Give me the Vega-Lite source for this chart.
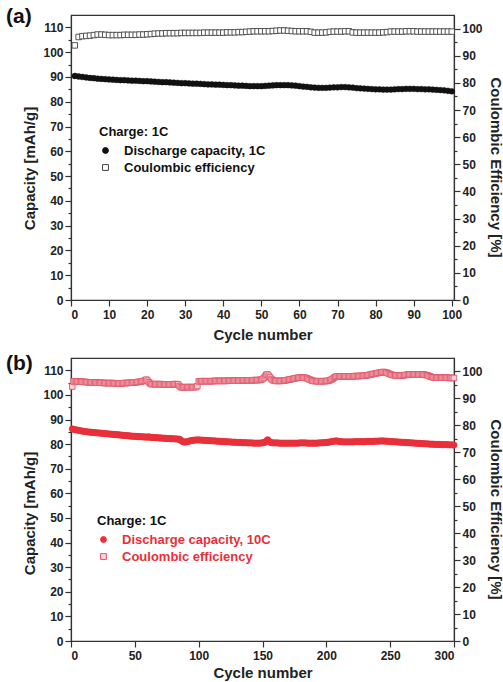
{
"$schema": "https://vega.github.io/schema/vega-lite/v6.json",
"padding": {"left": 5, "top": 5, "right": 1, "bottom": 1},
"config": {
 "font": "Liberation Sans",
 "view": {"stroke": "#333", "strokeWidth": 1.2},
 "point": {"opacity": 1},
 "axis": {"labelFont": "Liberation Sans", "labelFontSize": 12, "labelFontWeight": "bold", "labelColor": "#222", "titleFont": "Liberation Sans", "titleFontSize": 15, "titleFontWeight": "bold", "titleColor": "#222", "domainColor": "#333", "tickColor": "#333", "grid": false, "labelPadding": 2, "domainWidth": 1.2, "tickWidth": 1.2, "tickSize": 6, "titlePadding": 5},
 "legend": {"titleFont": "Liberation Sans", "labelFont": "Liberation Sans", "titleFontSize": 13, "labelFontSize": 13, "titleFontWeight": "bold", "labelFontWeight": "bold", "titleColor": "#111", "labelColor": "#111", "symbolSize": 34, "symbolStrokeWidth": 1, "symbolOpacity": 1, "rowPadding": 3, "titlePadding": 5, "labelOffset": 12, "labelLimit": 300},
 "title": {"font": "Liberation Sans", "fontSize": 21, "fontWeight": "bold", "color": "#111"}
},
"datasets": {
"a": [
{"n":1,"cap":90.4,"ce":93.8},{"n":2,"cap":90.2,"ce":96.9},{"n":3,"cap":90.0,"ce":97.2},{"n":4,"cap":89.8,"ce":97.3},{"n":5,"cap":89.6,"ce":97.4},{"n":6,"cap":89.5,"ce":97.6},{"n":7,"cap":89.3,"ce":97.8},{"n":8,"cap":89.2,"ce":97.8},{"n":9,"cap":89.1,"ce":97.7},{"n":10,"cap":89.0,"ce":97.6},
{"n":11,"cap":88.9,"ce":97.6},{"n":12,"cap":88.8,"ce":97.6},{"n":13,"cap":88.7,"ce":97.6},{"n":14,"cap":88.7,"ce":97.7},{"n":15,"cap":88.6,"ce":97.7},{"n":16,"cap":88.5,"ce":97.7},{"n":17,"cap":88.5,"ce":97.7},{"n":18,"cap":88.4,"ce":97.8},{"n":19,"cap":88.3,"ce":97.8},{"n":20,"cap":88.3,"ce":97.9},
{"n":21,"cap":88.2,"ce":98.0},{"n":22,"cap":88.1,"ce":98.1},{"n":23,"cap":88.0,"ce":98.2},{"n":24,"cap":87.9,"ce":98.2},{"n":25,"cap":87.9,"ce":98.3},{"n":26,"cap":87.8,"ce":98.3},{"n":27,"cap":87.7,"ce":98.3},{"n":28,"cap":87.6,"ce":98.3},{"n":29,"cap":87.5,"ce":98.4},{"n":30,"cap":87.5,"ce":98.4},
{"n":31,"cap":87.4,"ce":98.4},{"n":32,"cap":87.3,"ce":98.4},{"n":33,"cap":87.3,"ce":98.4},{"n":34,"cap":87.2,"ce":98.4},{"n":35,"cap":87.1,"ce":98.5},{"n":36,"cap":87.0,"ce":98.5},{"n":37,"cap":87.0,"ce":98.5},{"n":38,"cap":86.9,"ce":98.5},{"n":39,"cap":86.9,"ce":98.5},{"n":40,"cap":86.8,"ce":98.5},
{"n":41,"cap":86.7,"ce":98.6},{"n":42,"cap":86.7,"ce":98.6},{"n":43,"cap":86.6,"ce":98.6},{"n":44,"cap":86.5,"ce":98.7},{"n":45,"cap":86.5,"ce":98.7},{"n":46,"cap":86.4,"ce":98.8},{"n":47,"cap":86.3,"ce":98.9},{"n":48,"cap":86.3,"ce":99.0},{"n":49,"cap":86.3,"ce":99.0},{"n":50,"cap":86.3,"ce":99.0},
{"n":51,"cap":86.4,"ce":99.0},{"n":52,"cap":86.5,"ce":99.0},{"n":53,"cap":86.6,"ce":99.1},{"n":54,"cap":86.7,"ce":99.2},{"n":55,"cap":86.7,"ce":99.3},{"n":56,"cap":86.7,"ce":99.3},{"n":57,"cap":86.7,"ce":99.2},{"n":58,"cap":86.6,"ce":99.1},{"n":59,"cap":86.5,"ce":99.0},{"n":60,"cap":86.3,"ce":99.0},
{"n":61,"cap":86.1,"ce":99.0},{"n":62,"cap":86.0,"ce":99.0},{"n":63,"cap":85.8,"ce":98.8},{"n":64,"cap":85.7,"ce":98.5},{"n":65,"cap":85.6,"ce":98.5},{"n":66,"cap":85.6,"ce":98.5},{"n":67,"cap":85.6,"ce":98.6},{"n":68,"cap":85.7,"ce":98.8},{"n":69,"cap":85.8,"ce":98.9},{"n":70,"cap":85.8,"ce":98.9},
{"n":71,"cap":85.9,"ce":98.9},{"n":72,"cap":85.9,"ce":99.0},{"n":73,"cap":85.8,"ce":99.0},{"n":74,"cap":85.7,"ce":98.6},{"n":75,"cap":85.5,"ce":98.5},{"n":76,"cap":85.4,"ce":98.5},{"n":77,"cap":85.3,"ce":98.5},{"n":78,"cap":85.2,"ce":98.5},{"n":79,"cap":85.1,"ce":98.5},{"n":80,"cap":85.0,"ce":98.5},
{"n":81,"cap":85.0,"ce":98.5},{"n":82,"cap":84.9,"ce":98.6},{"n":83,"cap":84.9,"ce":98.7},{"n":84,"cap":84.9,"ce":98.9},{"n":85,"cap":85.0,"ce":98.9},{"n":86,"cap":85.1,"ce":98.9},{"n":87,"cap":85.1,"ce":98.9},{"n":88,"cap":85.2,"ce":99.0},{"n":89,"cap":85.2,"ce":99.0},{"n":90,"cap":85.2,"ce":99.0},
{"n":91,"cap":85.1,"ce":98.9},{"n":92,"cap":85.1,"ce":98.9},{"n":93,"cap":85.0,"ce":98.9},{"n":94,"cap":85.0,"ce":98.9},{"n":95,"cap":84.9,"ce":98.9},{"n":96,"cap":84.8,"ce":98.9},{"n":97,"cap":84.7,"ce":98.9},{"n":98,"cap":84.6,"ce":98.9},{"n":99,"cap":84.4,"ce":98.9},{"n":100,"cap":84.2,"ce":98.9}
],
"b": [
{"n":1,"cap":86.2,"ce":94.4},{"n":2,"cap":86.0,"ce":96.3},{"n":3,"cap":85.9,"ce":96.4},{"n":4,"cap":85.8,"ce":96.4},{"n":5,"cap":85.7,"ce":96.3},{"n":6,"cap":85.6,"ce":96.3},{"n":7,"cap":85.5,"ce":96.2},{"n":8,"cap":85.4,"ce":96.2},{"n":9,"cap":85.3,"ce":96.2},{"n":10,"cap":85.2,"ce":96.1},
{"n":11,"cap":85.1,"ce":96.1},{"n":12,"cap":85.0,"ce":96.1},{"n":13,"cap":85.0,"ce":96.0},{"n":14,"cap":84.9,"ce":96.0},{"n":15,"cap":84.9,"ce":96.0},{"n":16,"cap":84.8,"ce":96.0},{"n":17,"cap":84.8,"ce":95.9},{"n":18,"cap":84.7,"ce":95.9},{"n":19,"cap":84.7,"ce":95.9},{"n":20,"cap":84.6,"ce":95.9},
{"n":21,"cap":84.6,"ce":95.8},{"n":22,"cap":84.5,"ce":95.8},{"n":23,"cap":84.5,"ce":95.8},{"n":24,"cap":84.4,"ce":95.8},{"n":25,"cap":84.4,"ce":95.8},{"n":26,"cap":84.3,"ce":95.7},{"n":27,"cap":84.3,"ce":95.7},{"n":28,"cap":84.2,"ce":95.7},{"n":29,"cap":84.2,"ce":95.7},{"n":30,"cap":84.1,"ce":95.7},
{"n":31,"cap":84.1,"ce":95.7},{"n":32,"cap":84.0,"ce":95.7},{"n":33,"cap":84.0,"ce":95.7},{"n":34,"cap":83.9,"ce":95.6},{"n":35,"cap":83.9,"ce":95.6},{"n":36,"cap":83.8,"ce":95.6},{"n":37,"cap":83.8,"ce":95.6},{"n":38,"cap":83.7,"ce":95.6},{"n":39,"cap":83.7,"ce":95.6},{"n":40,"cap":83.6,"ce":95.6},
{"n":41,"cap":83.6,"ce":95.7},{"n":42,"cap":83.5,"ce":95.7},{"n":43,"cap":83.5,"ce":95.7},{"n":44,"cap":83.4,"ce":95.7},{"n":45,"cap":83.4,"ce":95.8},{"n":46,"cap":83.3,"ce":95.8},{"n":47,"cap":83.3,"ce":95.8},{"n":48,"cap":83.2,"ce":95.9},{"n":49,"cap":83.2,"ce":95.9},{"n":50,"cap":83.2,"ce":96.0},
{"n":51,"cap":83.1,"ce":96.0},{"n":52,"cap":83.1,"ce":96.1},{"n":53,"cap":83.1,"ce":96.1},{"n":54,"cap":83.0,"ce":96.2},{"n":55,"cap":83.0,"ce":96.3},{"n":56,"cap":83.0,"ce":96.4},{"n":57,"cap":82.9,"ce":96.5},{"n":58,"cap":82.9,"ce":96.7},{"n":59,"cap":82.9,"ce":97.0},{"n":60,"cap":82.8,"ce":96.6},
{"n":61,"cap":83.0,"ce":96.0},{"n":62,"cap":82.8,"ce":95.5},{"n":63,"cap":82.7,"ce":95.3},{"n":64,"cap":82.7,"ce":95.3},{"n":65,"cap":82.7,"ce":95.3},{"n":66,"cap":82.6,"ce":95.3},{"n":67,"cap":82.6,"ce":95.3},{"n":68,"cap":82.6,"ce":95.3},{"n":69,"cap":82.5,"ce":95.3},{"n":70,"cap":82.5,"ce":95.3},
{"n":71,"cap":82.5,"ce":95.3},{"n":72,"cap":82.4,"ce":95.2},{"n":73,"cap":82.4,"ce":95.2},{"n":74,"cap":82.4,"ce":95.2},{"n":75,"cap":82.3,"ce":95.2},{"n":76,"cap":82.3,"ce":95.2},{"n":77,"cap":82.3,"ce":95.2},{"n":78,"cap":82.2,"ce":95.2},{"n":79,"cap":82.2,"ce":95.2},{"n":80,"cap":82.2,"ce":95.3},
{"n":81,"cap":82.1,"ce":95.3},{"n":82,"cap":82.1,"ce":95.3},{"n":83,"cap":82.1,"ce":95.3},{"n":84,"cap":82.0,"ce":95.2},{"n":85,"cap":82.0,"ce":94.6},{"n":86,"cap":81.6,"ce":94.2},{"n":87,"cap":81.2,"ce":94.1},{"n":88,"cap":80.9,"ce":94.1},{"n":89,"cap":80.8,"ce":94.2},{"n":90,"cap":80.9,"ce":94.2},
{"n":91,"cap":81.0,"ce":94.2},{"n":92,"cap":81.1,"ce":94.2},{"n":93,"cap":81.3,"ce":94.2},{"n":94,"cap":81.4,"ce":94.2},{"n":95,"cap":81.5,"ce":94.2},{"n":96,"cap":81.6,"ce":94.2},{"n":97,"cap":81.6,"ce":94.2},{"n":98,"cap":81.7,"ce":94.2},{"n":99,"cap":81.7,"ce":94.6},{"n":100,"cap":81.7,"ce":96.3},
{"n":101,"cap":81.7,"ce":96.4},{"n":102,"cap":81.6,"ce":96.4},{"n":103,"cap":81.6,"ce":96.4},{"n":104,"cap":81.6,"ce":96.4},{"n":105,"cap":81.5,"ce":96.4},{"n":106,"cap":81.5,"ce":96.4},{"n":107,"cap":81.5,"ce":96.4},{"n":108,"cap":81.4,"ce":96.4},{"n":109,"cap":81.4,"ce":96.4},{"n":110,"cap":81.4,"ce":96.4},
{"n":111,"cap":81.3,"ce":96.4},{"n":112,"cap":81.3,"ce":96.5},{"n":113,"cap":81.3,"ce":96.5},{"n":114,"cap":81.2,"ce":96.5},{"n":115,"cap":81.2,"ce":96.5},{"n":116,"cap":81.2,"ce":96.5},{"n":117,"cap":81.1,"ce":96.5},{"n":118,"cap":81.1,"ce":96.5},{"n":119,"cap":81.1,"ce":96.5},{"n":120,"cap":81.0,"ce":96.5},
{"n":121,"cap":81.0,"ce":96.5},{"n":122,"cap":81.0,"ce":96.5},{"n":123,"cap":80.9,"ce":96.6},{"n":124,"cap":80.9,"ce":96.6},{"n":125,"cap":80.9,"ce":96.6},{"n":126,"cap":80.8,"ce":96.6},{"n":127,"cap":80.8,"ce":96.6},{"n":128,"cap":80.8,"ce":96.6},{"n":129,"cap":80.8,"ce":96.6},{"n":130,"cap":80.7,"ce":96.6},
{"n":131,"cap":80.7,"ce":96.6},{"n":132,"cap":80.7,"ce":96.6},{"n":133,"cap":80.7,"ce":96.6},{"n":134,"cap":80.6,"ce":96.7},{"n":135,"cap":80.6,"ce":96.7},{"n":136,"cap":80.6,"ce":96.7},{"n":137,"cap":80.6,"ce":96.7},{"n":138,"cap":80.5,"ce":96.7},{"n":139,"cap":80.5,"ce":96.7},{"n":140,"cap":80.5,"ce":96.7},
{"n":141,"cap":80.5,"ce":96.7},{"n":142,"cap":80.5,"ce":96.7},{"n":143,"cap":80.4,"ce":96.8},{"n":144,"cap":80.4,"ce":96.8},{"n":145,"cap":80.4,"ce":96.8},{"n":146,"cap":80.4,"ce":96.8},{"n":147,"cap":80.4,"ce":96.8},{"n":148,"cap":80.4,"ce":96.9},{"n":149,"cap":80.5,"ce":97.0},{"n":150,"cap":80.5,"ce":97.2},
{"n":151,"cap":80.6,"ce":97.6},{"n":152,"cap":80.8,"ce":98.2},{"n":153,"cap":81.2,"ce":98.8},{"n":154,"cap":81.8,"ce":98.9},{"n":155,"cap":81.2,"ce":98.4},{"n":156,"cap":80.8,"ce":97.8},{"n":157,"cap":80.6,"ce":97.2},{"n":158,"cap":80.5,"ce":96.8},{"n":159,"cap":80.5,"ce":96.6},{"n":160,"cap":80.5,"ce":96.5},
{"n":161,"cap":80.5,"ce":96.5},{"n":162,"cap":80.5,"ce":96.5},{"n":163,"cap":80.4,"ce":96.5},{"n":164,"cap":80.4,"ce":96.5},{"n":165,"cap":80.4,"ce":96.5},{"n":166,"cap":80.4,"ce":96.6},{"n":167,"cap":80.4,"ce":96.6},{"n":168,"cap":80.4,"ce":96.7},{"n":169,"cap":80.4,"ce":96.8},{"n":170,"cap":80.4,"ce":96.9},
{"n":171,"cap":80.4,"ce":97.0},{"n":172,"cap":80.4,"ce":97.1},{"n":173,"cap":80.4,"ce":97.2},{"n":174,"cap":80.4,"ce":97.3},{"n":175,"cap":80.4,"ce":97.4},{"n":176,"cap":80.4,"ce":97.5},{"n":177,"cap":80.4,"ce":97.6},{"n":178,"cap":80.4,"ce":97.7},{"n":179,"cap":80.5,"ce":97.7},{"n":180,"cap":80.5,"ce":97.7},
{"n":181,"cap":80.5,"ce":97.7},{"n":182,"cap":80.5,"ce":97.7},{"n":183,"cap":80.5,"ce":97.7},{"n":184,"cap":80.5,"ce":97.6},{"n":185,"cap":80.4,"ce":97.4},{"n":186,"cap":80.4,"ce":97.2},{"n":187,"cap":80.4,"ce":97.0},{"n":188,"cap":80.4,"ce":96.8},{"n":189,"cap":80.4,"ce":96.6},{"n":190,"cap":80.4,"ce":96.5},
{"n":191,"cap":80.4,"ce":96.4},{"n":192,"cap":80.4,"ce":96.4},{"n":193,"cap":80.4,"ce":96.4},{"n":194,"cap":80.5,"ce":96.4},{"n":195,"cap":80.5,"ce":96.4},{"n":196,"cap":80.5,"ce":96.4},{"n":197,"cap":80.6,"ce":96.4},{"n":198,"cap":80.6,"ce":96.4},{"n":199,"cap":80.6,"ce":96.4},{"n":200,"cap":80.7,"ce":96.5},
{"n":201,"cap":80.7,"ce":96.5},{"n":202,"cap":80.8,"ce":96.6},{"n":203,"cap":80.9,"ce":96.8},{"n":204,"cap":81.0,"ce":97.0},{"n":205,"cap":81.1,"ce":97.3},{"n":206,"cap":81.2,"ce":97.7},{"n":207,"cap":81.3,"ce":98.0},{"n":208,"cap":81.3,"ce":98.1},{"n":209,"cap":81.2,"ce":98.2},{"n":210,"cap":81.1,"ce":98.2},
{"n":211,"cap":81.0,"ce":98.2},{"n":212,"cap":81.0,"ce":98.2},{"n":213,"cap":80.9,"ce":98.2},{"n":214,"cap":80.9,"ce":98.2},{"n":215,"cap":80.9,"ce":98.2},{"n":216,"cap":80.9,"ce":98.2},{"n":217,"cap":80.9,"ce":98.2},{"n":218,"cap":80.9,"ce":98.2},{"n":219,"cap":80.9,"ce":98.2},{"n":220,"cap":80.9,"ce":98.2},
{"n":221,"cap":80.9,"ce":98.2},{"n":222,"cap":81.0,"ce":98.3},{"n":223,"cap":81.0,"ce":98.3},{"n":224,"cap":81.0,"ce":98.3},{"n":225,"cap":81.0,"ce":98.3},{"n":226,"cap":81.0,"ce":98.3},{"n":227,"cap":81.0,"ce":98.4},{"n":228,"cap":81.0,"ce":98.4},{"n":229,"cap":81.0,"ce":98.4},{"n":230,"cap":81.0,"ce":98.5},
{"n":231,"cap":81.0,"ce":98.5},{"n":232,"cap":81.1,"ce":98.6},{"n":233,"cap":81.1,"ce":98.7},{"n":234,"cap":81.1,"ce":98.8},{"n":235,"cap":81.1,"ce":98.9},{"n":236,"cap":81.1,"ce":99.0},{"n":237,"cap":81.1,"ce":99.1},{"n":238,"cap":81.2,"ce":99.2},{"n":239,"cap":81.2,"ce":99.3},{"n":240,"cap":81.2,"ce":99.4},
{"n":241,"cap":81.2,"ce":99.5},{"n":242,"cap":81.3,"ce":99.6},{"n":243,"cap":81.3,"ce":99.7},{"n":244,"cap":81.3,"ce":99.8},{"n":245,"cap":81.3,"ce":99.8},{"n":246,"cap":81.2,"ce":99.7},{"n":247,"cap":81.2,"ce":99.6},{"n":248,"cap":81.2,"ce":99.4},{"n":249,"cap":81.1,"ce":99.2},{"n":250,"cap":81.1,"ce":99.0},
{"n":251,"cap":81.0,"ce":98.8},{"n":252,"cap":81.0,"ce":98.7},{"n":253,"cap":81.0,"ce":98.6},{"n":254,"cap":80.9,"ce":98.5},{"n":255,"cap":80.9,"ce":98.5},{"n":256,"cap":80.9,"ce":98.5},{"n":257,"cap":80.8,"ce":98.5},{"n":258,"cap":80.8,"ce":98.5},{"n":259,"cap":80.8,"ce":98.5},{"n":260,"cap":80.7,"ce":98.6},
{"n":261,"cap":80.7,"ce":98.6},{"n":262,"cap":80.7,"ce":98.7},{"n":263,"cap":80.6,"ce":98.8},{"n":264,"cap":80.6,"ce":98.9},{"n":265,"cap":80.6,"ce":98.9},{"n":266,"cap":80.5,"ce":98.9},{"n":267,"cap":80.5,"ce":98.9},{"n":268,"cap":80.5,"ce":98.9},{"n":269,"cap":80.4,"ce":98.9},{"n":270,"cap":80.4,"ce":98.9},
{"n":271,"cap":80.4,"ce":98.9},{"n":272,"cap":80.3,"ce":98.9},{"n":273,"cap":80.3,"ce":98.9},{"n":274,"cap":80.3,"ce":98.9},{"n":275,"cap":80.2,"ce":98.9},{"n":276,"cap":80.2,"ce":98.9},{"n":277,"cap":80.2,"ce":98.8},{"n":278,"cap":80.1,"ce":98.7},{"n":279,"cap":80.1,"ce":98.6},{"n":280,"cap":80.1,"ce":98.4},
{"n":281,"cap":80.0,"ce":98.2},{"n":282,"cap":80.0,"ce":98.0},{"n":283,"cap":80.0,"ce":97.9},{"n":284,"cap":80.0,"ce":97.8},{"n":285,"cap":79.9,"ce":97.8},{"n":286,"cap":79.9,"ce":97.7},{"n":287,"cap":79.9,"ce":97.7},{"n":288,"cap":79.9,"ce":97.7},{"n":289,"cap":79.9,"ce":97.7},{"n":290,"cap":79.8,"ce":97.7},
{"n":291,"cap":79.8,"ce":97.7},{"n":292,"cap":79.8,"ce":97.7},{"n":293,"cap":79.8,"ce":97.7},{"n":294,"cap":79.8,"ce":97.7},{"n":295,"cap":79.8,"ce":97.7},{"n":296,"cap":79.7,"ce":97.6},{"n":297,"cap":79.7,"ce":97.6},{"n":298,"cap":79.7,"ce":97.6},{"n":299,"cap":79.7,"ce":97.6},{"n":300,"cap":79.6,"ce":97.6}
]
},
"spacing": 9,
"resolve": {"scale": {"shape": "independent", "fill": "independent", "stroke": "independent"}},
"vconcat": [
{
 "title": {"text": "(a)", "anchor": "start", "frame": "bounds", "offset": -12, "dx": -17},
 "width": 383, "height": 285,
 "data": {"name": "a"},
 "resolve": {"scale": {"y": "independent"}},
 "layer": [
  {
   "mark": {"type": "point", "filled": true, "size": 34, "strokeWidth": 0.5, "opacity": 1},
   "encoding": {
    "x": {"field": "n", "type": "quantitative", "scale": {"domain": [0, 100.6], "nice": false}, "axis": {"title": "Cycle number", "values": [0,10,20,30,40,50,60,70,80,90,100], "labelPadding": 3, "titlePadding": 7, "labelOverlap": false}},
    "y": {"field": "cap", "type": "quantitative", "scale": {"domain": [0, 115], "nice": false}, "axis": {"orient": "left", "title": "Capacity [mAh/g]", "titleY": 153, "values": [0,5,10,15,20,25,30,35,40,45,50,55,60,65,70,75,80,85,90,95,100,105,110], "labelExpr": "datum.value % 10 === 0 ? datum.label : ''", "tickSize": {"condition": {"test": "datum.value % 10 === 0", "value": 6}, "value": 3}}},
    "shape": {"datum": "Discharge capacity, 1C", "scale": {"domain": ["Discharge capacity, 1C", "Coulombic efficiency"], "range": ["circle", "square"]}, "legend": {"title": "Charge: 1C", "orient": "none", "legendX": 28, "legendY": 111}},
    "fill": {"datum": "Discharge capacity, 1C", "scale": {"domain": ["Discharge capacity, 1C", "Coulombic efficiency"], "range": ["#111111", "#ffffff"]}, "legend": {"title": "Charge: 1C", "orient": "none", "legendX": 28, "legendY": 111}},
    "stroke": {"datum": "Discharge capacity, 1C", "scale": {"domain": ["Discharge capacity, 1C", "Coulombic efficiency"], "range": ["#111111", "#444444"]}, "legend": {"title": "Charge: 1C", "orient": "none", "legendX": 28, "legendY": 111}}
   }
  },
  {
   "mark": {"type": "point", "filled": true, "size": 30, "strokeWidth": 0.9, "opacity": 1},
   "encoding": {
    "x": {"field": "n", "type": "quantitative", "scale": {"domain": [0, 100.6], "nice": false}, "axis": {"title": "Cycle number", "values": [0,10,20,30,40,50,60,70,80,90,100], "labelPadding": 3, "titlePadding": 7, "labelOverlap": false}},
    "y": {"field": "ce", "type": "quantitative", "scale": {"domain": [0, 105], "nice": false}, "axis": {"orient": "right", "title": "Coulombic Efficiency [%]", "titleY": 152, "values": [0,5,10,15,20,25,30,35,40,45,50,55,60,65,70,75,80,85,90,95,100], "labelExpr": "datum.value % 10 === 0 ? datum.label : ''", "tickSize": {"condition": {"test": "datum.value % 10 === 0", "value": 6}, "value": 3}}},
    "shape": {"datum": "Coulombic efficiency"},
    "fill": {"datum": "Coulombic efficiency"},
    "stroke": {"datum": "Coulombic efficiency"}
   }
  }
 ]
},
{
 "title": {"text": "(b)", "anchor": "start", "frame": "bounds", "offset": -16, "dx": -17},
 "width": 383, "height": 283,
 "data": {"name": "b"},
 "resolve": {"scale": {"y": "independent"}},
 "layer": [
  {
   "mark": {"type": "point", "filled": true, "size": 40, "strokeWidth": 0.5, "opacity": 1},
   "encoding": {
    "x": {"field": "n", "type": "quantitative", "scale": {"domain": [0, 300], "nice": false}, "axis": {"title": "Cycle number", "values": [0,50,100,150,200,250,300], "labelPadding": 3, "titlePadding": 4, "labelOverlap": false}},
    "y": {"field": "cap", "type": "quantitative", "scale": {"domain": [0, 115], "nice": false}, "axis": {"orient": "left", "title": "Capacity [mAh/g]", "titleY": 155, "values": [0,5,10,15,20,25,30,35,40,45,50,55,60,65,70,75,80,85,90,95,100,105,110], "labelExpr": "datum.value % 10 === 0 ? datum.label : ''", "tickSize": {"condition": {"test": "datum.value % 10 === 0", "value": 6}, "value": 3}}},
    "shape": {"datum": "Discharge capacity, 10C", "scale": {"domain": ["Discharge capacity, 10C", "Coulombic efficiency"], "range": ["circle", "square"]}, "legend": {"title": "Charge: 1C", "orient": "none", "legendX": 26, "legendY": 157, "labelColor": "#e8303a"}},
    "fill": {"datum": "Discharge capacity, 10C", "scale": {"domain": ["Discharge capacity, 10C", "Coulombic efficiency"], "range": ["#e8303a", "#fbd3d7"]}, "legend": {"title": "Charge: 1C", "orient": "none", "legendX": 26, "legendY": 157, "labelColor": "#e8303a"}},
    "stroke": {"datum": "Discharge capacity, 10C", "scale": {"domain": ["Discharge capacity, 10C", "Coulombic efficiency"], "range": ["#e8303a", "#e0566a"]}, "legend": {"title": "Charge: 1C", "orient": "none", "legendX": 26, "legendY": 157, "labelColor": "#e8303a"}}
   }
  },
  {
   "mark": {"type": "point", "filled": true, "size": 30, "strokeWidth": 0.9, "opacity": 1},
   "encoding": {
    "x": {"field": "n", "type": "quantitative", "scale": {"domain": [0, 300], "nice": false}, "axis": {"title": "Cycle number", "values": [0,50,100,150,200,250,300], "labelPadding": 3, "titlePadding": 4, "labelOverlap": false}},
    "y": {"field": "ce", "type": "quantitative", "scale": {"domain": [0, 105], "nice": false}, "axis": {"orient": "right", "title": "Coulombic Efficiency [%]", "titleY": 151, "values": [0,5,10,15,20,25,30,35,40,45,50,55,60,65,70,75,80,85,90,95,100], "labelExpr": "datum.value % 10 === 0 ? datum.label : ''", "tickSize": {"condition": {"test": "datum.value % 10 === 0", "value": 6}, "value": 3}}},
    "shape": {"datum": "Coulombic efficiency"},
    "fill": {"datum": "Coulombic efficiency"},
    "stroke": {"datum": "Coulombic efficiency"}
   }
  }
 ]
}
]
}
